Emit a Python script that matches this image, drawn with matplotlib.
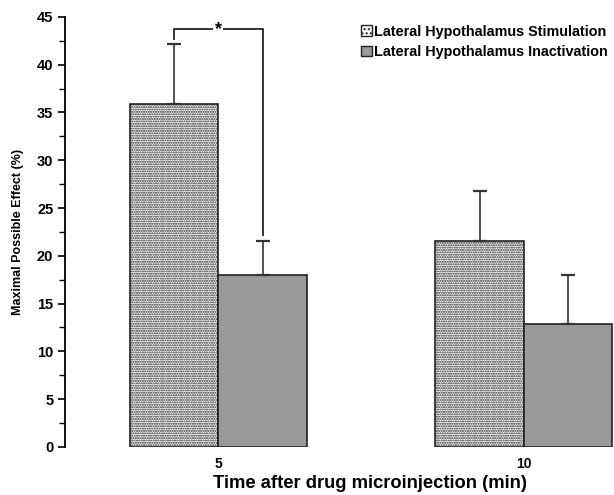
import numpy as np
import matplotlib
matplotlib.use("Agg")
import matplotlib.pyplot as plt
from matplotlib.patches import Patch

plt.rcParams['font.family'] = ['Liberation Sans', 'DejaVu Sans']
plt.rcParams['font.weight'] = 'bold'
plt.rcParams['axes.labelweight'] = 'bold'
plt.rcParams['hatch.color'] = '#8a8a8a'
plt.rcParams['hatch.linewidth'] = 1.0

# --- data ---
times = ["5", "10"]
stim_mean = [35.9, 21.5]
stim_err = [6.3, 5.3]
inact_mean = [18.0, 12.9]
inact_err = [3.5, 5.1]
labels = ["Lateral Hypothalamus Stimulation", "Lateral Hypothalamus Inactivation"]

x = np.arange(len(times))
w = 0.29

fig = plt.figure(figsize=(6.14, 4.95), dpi=100)
ax = fig.add_axes([0.106, 0.097, 0.894, 0.869])

ax.bar(x - w/2, stim_mean, w, color='white', edgecolor='#222222', linewidth=1.2,
       hatch='.......')
ax.bar(x + w/2, inact_mean, w, color='#9a9a9a', edgecolor='#222222', linewidth=1.2)
ax.errorbar(x - w/2, stim_mean, yerr=[np.zeros(2), stim_err], fmt='none',
            ecolor='#333333', elinewidth=1.2, capsize=5, capthick=1.6)
ax.errorbar(x + w/2, inact_mean, yerr=[np.zeros(2), inact_err], fmt='none',
            ecolor='#333333', elinewidth=1.2, capsize=5, capthick=1.6)

# significance bracket
xl, xr = x[0] - w/2, x[0] + w/2
ax.plot([xl, xl, xr, xr], [42.7, 43.7, 43.7, 22.2], color='#222222', lw=1.3)
ax.text(x[0], 43.7, "*", ha='center', va='center', fontsize=13, fontweight='bold',
        bbox=dict(facecolor='white', edgecolor='none', pad=1))

ax.set_xlim(-0.502, 1.295)
ax.set_ylim(0, 45)
ax.set_yticks(np.arange(0, 46, 5))
ax.set_yticks(np.arange(0, 45, 2.5), minor=True)
ax.set_xticks(x)
ax.set_xticklabels(times)
ax.tick_params(axis='x', length=0, labelsize=10, pad=7)
ax.tick_params(axis='y', which='major', length=5, width=1.2, labelsize=10.5)
ax.tick_params(axis='y', which='minor', length=4, width=1.0)
for s in ['top', 'right', 'bottom']:
    ax.spines[s].set_visible(False)
ax.spines['left'].set_linewidth(1.3)

ax.set_xlabel("Time after drug microinjection (min)", fontsize=13.2)
ax.xaxis.set_label_coords(0.556, -0.066)
ax.set_ylabel("Maximal Possible Effect (%)", fontsize=9, labelpad=9)

handles = [Patch(facecolor='white', edgecolor='#222222', hatch='....'),
           Patch(facecolor='#9a9a9a', edgecolor='#222222')]
fig.legend(handles, labels, loc='upper right', bbox_to_anchor=(1.0, 0.962),
           frameon=False, fontsize=10.4, handlelength=0.7, handleheight=0.7,
           handletextpad=0.2, labelspacing=0.45, borderaxespad=0.0)

fig.savefig("out.png", dpi=100)
